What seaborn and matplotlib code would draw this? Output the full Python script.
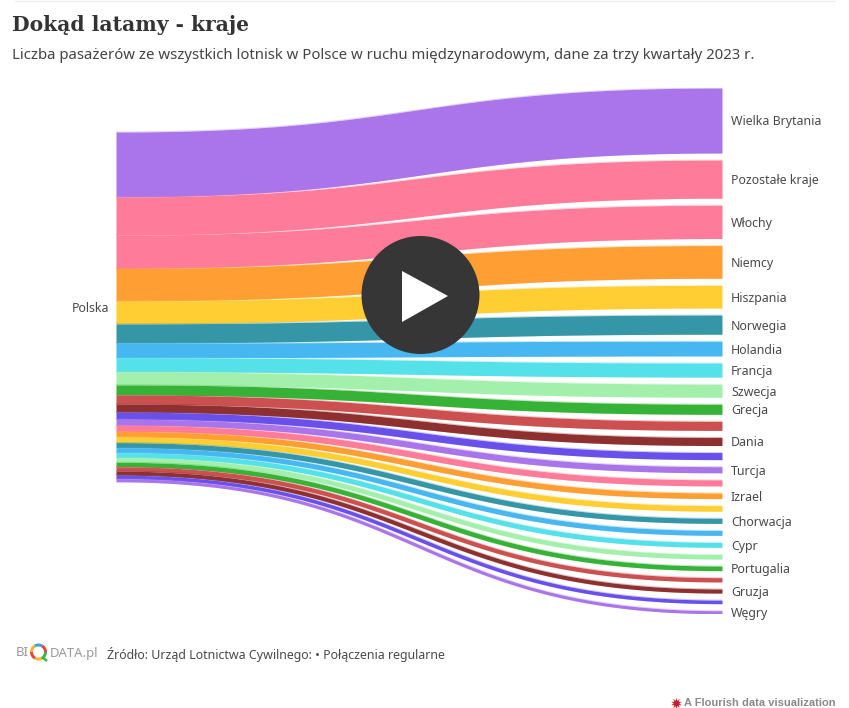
import numpy as np
import pandas as pd
import seaborn as sns
import matplotlib
matplotlib.use("Agg")
import matplotlib.pyplot as plt
from matplotlib.patches import Circle, Polygon, Wedge

# Destinations; blank entries are nodes drawn without a label
countries = ["Wielka Brytania", "Pozostałe kraje", "Włochy", "Niemcy", "Hiszpania", "Norwegia",
             "Holandia", "Francja", "Szwecja", "Grecja", "", "Dania", "", "Turcja",
             "", "Izrael", "", "Chorwacja", "", "Cypr", "",
             "Portugalia", "", "Gruzja", "", "Węgry"]
# Passengers per destination, thousands (estimated)
passengers = [4550, 2670, 2330, 2290, 1590, 1340, 1030, 985, 915, 705, 635, 565, 495, 430,
              425, 395, 390, 360, 345, 345, 325, 320, 300, 285, 250, 215]
band_colors = ["#AA75EB", "#FF7B9A", "#FF7B9A", "#FF9F33", "#FFCE33", "#3596A8", "#46B7F0",
               "#55E1EA", "#A3F0AD", "#36B336", "#CC5050", "#8F3030", "#6A50EB", "#AA75EB",
               "#FF7B9A", "#FF9F33", "#FFCE33", "#3596A8", "#46B7F0", "#55E1EA", "#A3F0AD",
               "#36B336", "#CC5050", "#8F3030", "#6A50EB", "#AA75EB"]

sns.set_theme(style="white", rc={"axes.facecolor": "white", "figure.facecolor": "white"})
plt.rcParams["font.family"] = ["Noto Sans", "DejaVu Sans"]

W, H = 849, 708
fig = plt.figure(figsize=(W / 100, H / 100), dpi=100)

# Sankey area in figure pixels
left_px, right_px, top_px, bottom_px = 116, 722, 88, 613
k_per_px = 70.0
gap = 7.04 * k_per_px
source_offset = (132 - top_px) * k_per_px
ax = fig.add_axes([left_px / W, 1 - bottom_px / H, (right_px - left_px) / W, (bottom_px - top_px) / H])

values = np.array(passengers, dtype=float)
src_top = source_offset + np.concatenate([[0], np.cumsum(values)[:-1]])
dst_top = np.concatenate([[0], np.cumsum(values + gap)[:-1]])

t = np.linspace(0, 1, 200)
x = 1.5 * t - 1.5 * t ** 2 + t ** 3
ease = 3 * t ** 2 - 2 * t ** 3
edges = []
for i, (v, s, d, c) in enumerate(zip(values, src_top, dst_top, band_colors)):
    y0, y1 = s + v / 2, d + v / 2
    centre = y0 + (y1 - y0) * ease
    # Ribbon keeps its thickness perpendicular to the flow direction
    dxdt = (1.5 - 3 * t + 3 * t ** 2) * (right_px - left_px)
    dydt = (y1 - y0) / k_per_px * (6 * t - 6 * t ** 2)
    half = v / 2 * np.sqrt(1 + (dydt / dxdt) ** 2)
    ax.fill_between(x, centre - half, centre + half, color=c, lw=0)
    edges.append(pd.DataFrame({"x": np.r_[x, x], "y": np.r_[centre - half, centre + half],
                               "edge": np.r_[np.zeros_like(x), np.ones_like(x)], "node": i}))

outline = pd.concat(edges, ignore_index=True)
sns.lineplot(data=outline, x="x", y="y", hue="node", units="edge", estimator=None,
             palette=dict(enumerate(band_colors)), lw=0.8, alpha=0.3, legend=False, ax=ax, sort=False)
ax.set_xlim(0, 1)
ax.set_ylim((bottom_px - top_px) * k_per_px, 0)
ax.axis("off")

label_color = "#4a4a4a"
for name, v, d in zip(countries, values, dst_top):
    if name:
        ax.annotate(name, xy=(1, d + v / 2), xytext=(9, -1.5), textcoords="offset pixels", ha="left",
                    va="center", fontsize=8.9, color=label_color, annotation_clip=False)
ax.annotate("Polska", xy=(0, source_offset + values.sum() / 2), xytext=(-7, -1.5), textcoords="offset pixels",
            ha="right", va="center", fontsize=8.9, color=label_color, annotation_clip=False)

# Page furniture placed in pixel coordinates
page = fig.add_axes([0, 0, 1, 1], zorder=5)
page.set_xlim(0, W)
page.set_ylim(H, 0)
page.axis("off")
page.patch.set_alpha(0)

page.plot([15, 835], [0.5, 0.5], color="#eeeeee", lw=1)
page.text(12, 25, "Dokąd latamy - kraje", fontsize=14.6, fontweight="bold", family="DejaVu Serif",
          color="#333333", va="center", ha="left")
page.text(12, 55.5, "Liczba pasażerów ze wszystkich lotnisk w Polsce w ruchu międzynarodowym, dane za trzy kwartały 2023 r.",
          fontsize=10.75, color="#444444", va="center", ha="left")

# Play button
page.add_patch(Circle((420.5, 295), 59, facecolor="#363636", edgecolor="none"))
page.add_patch(Polygon([(402, 271), (448, 296), (402, 322)], closed=True, facecolor="white", edgecolor="none"))

# Logo
page.text(16, 653, "BI", fontsize=9.5, color="#9a9a9a", va="center", ha="left")
ring = ["#3DB54A", "#F5B331", "#E8443A", "#F5B331", "#3AA6DD", "#E8443A"]
for i, c in enumerate(ring):
    page.add_patch(Wedge((38.5, 652), 8.5, i * 60, (i + 1) * 60, width=3, facecolor=c, edgecolor="none"))
page.plot([42, 47], [657, 661], color="#3DB54A", lw=1.8, solid_capstyle="butt")
page.text(49.5, 653, "DATA.pl", fontsize=9.4, color="#9a9a9a", va="center", ha="left")

page.text(107, 654, "Źródło: Urząd Lotnictwa Cywilnego: • Połączenia regularne", fontsize=8.95,
          color="#4a4a4a", va="center", ha="left")

# Credit line
page.plot([676], [703], marker=(10, 1, 0), ms=8, color="#C8202F", mec="none")
page.text(684, 703.5, "A Flourish data visualization", fontsize=8, fontweight="bold",
          family="Liberation Sans", color="#8a8a8a", va="center", ha="left")

fig.savefig("out.png", dpi=100)
